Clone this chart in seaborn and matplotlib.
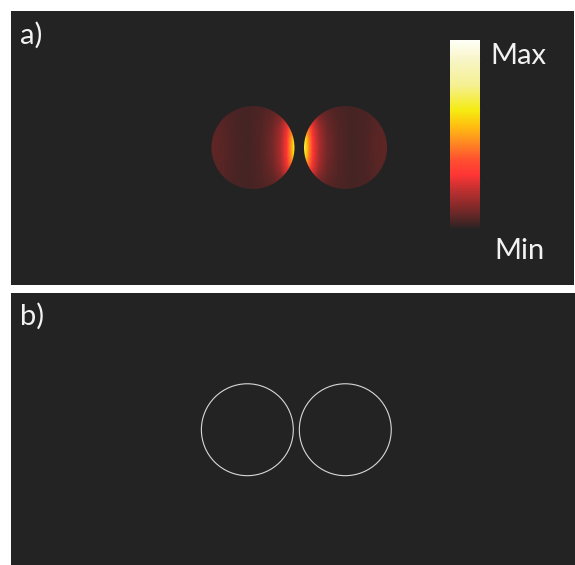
import numpy as np
import matplotlib
matplotlib.use("Agg")
import matplotlib.pyplot as plt
import seaborn as sns
from matplotlib.colors import LinearSegmentedColormap, Normalize
from matplotlib.image import NonUniformImage
from matplotlib.patches import Circle
import matplotlib.cm as cm

BG = "#232323"
W, H = 575, 565

# colour scale: normalised level -> colour
cmap_stops = [0.0, 0.05, 0.13, 0.21, 0.29, 0.37, 0.47, 0.55, 0.63, 0.76, 0.90, 1.0]
cmap_colors = ["#232323", "#502525", "#8a2a2a", "#c03030", "#ff3535", "#ff5030",
               "#ff9020", "#ffc010", "#f5eb10", "#f5f090", "#f8f5c8", "#fffff8"]
cbar_ticks = [0.253, 0.632, 0.895]
cbar_labels = ["Min", "Max"]

# dimer geometry (nm)
radius = 40.0
centers_a = [-44.6, 44.6]
outline_radius = 44.3
centers_b = [-47.2, 47.2]

# normalised field intensity inside the left particle, sampled on a coarse grid
# columns: x offset from particle centre (in radii), rows: y offset (in radii, upper half)
field_x = [-1.0, -0.7, -0.4, -0.1, 0.2, 0.45, 0.65, 0.8, 0.9, 0.96, 1.0]
field_y = [0.0, 0.2, 0.4, 0.6, 0.8, 1.0]
field_half = [
    [0.075, 0.065, 0.045, 0.042, 0.060, 0.100, 0.180, 0.300, 0.480, 0.600, 0.700],
    [0.075, 0.065, 0.045, 0.042, 0.060, 0.100, 0.175, 0.290, 0.460, 0.580, 0.660],
    [0.072, 0.062, 0.045, 0.042, 0.058, 0.095, 0.165, 0.270, 0.420, 0.480, 0.520],
    [0.070, 0.060, 0.045, 0.042, 0.055, 0.085, 0.140, 0.240, 0.300, 0.320, 0.330],
    [0.068, 0.058, 0.045, 0.042, 0.052, 0.072, 0.105, 0.150, 0.180, 0.200, 0.210],
    [0.065, 0.055, 0.045, 0.042, 0.050, 0.062, 0.085, 0.105, 0.125, 0.135, 0.145],
]

sns.set_theme(style="dark", rc={"axes.facecolor": BG, "figure.facecolor": "white"})
plt.rcParams["font.family"] = ["Lato", "DejaVu Sans"]

cmap = LinearSegmentedColormap.from_list("dimer", list(zip(cmap_stops, cmap_colors)))
norm = Normalize(0.0, 1.0)

fig = plt.figure(figsize=(W / 100, H / 100), dpi=100)


def px_axes(x0, y0, x1, y1):
    return fig.add_axes([x0 / W, 1 - y1 / H, (x1 - x0) / W, (y1 - y0) / H])


def clean(ax):
    ax.set_facecolor(BG)
    ax.set_xticks([])
    ax.set_yticks([])
    ax.grid(False)
    for s in ax.spines.values():
        s.set_visible(False)


# ---- panel a: field map ----
ax_a = px_axes(11, 11, 574, 285)
clean(ax_a)
ax_a.set_xlim(-277.8, 264.8)
ax_a.set_ylim(-132.5, 131.6)

fx = np.array(field_x)
half = np.array(field_half)
fy = np.concatenate([-np.array(field_y)[::-1], np.array(field_y)[1:]])
grid = np.vstack([half[::-1], half[1:]])

for k, cx in enumerate(centers_a):
    if k == 0:
        xs = cx + fx * radius
        vals = grid
    else:
        xs = cx - fx[::-1] * radius
        vals = grid[:, ::-1]
    ys = fy * radius
    im = NonUniformImage(ax_a, interpolation="bilinear", cmap=cmap, norm=norm,
                         extent=(xs[0], xs[-1], ys[0], ys[-1]))
    im.set_data(xs, ys, vals)
    ax_a.add_image(im)
    clip = Circle((cx, 0.0), radius, transform=ax_a.transData)
    im.set_clip_path(clip)

# colour bar
cax = px_axes(450, 40, 480, 230)
cb = fig.colorbar(cm.ScalarMappable(norm=norm, cmap=cmap), cax=cax, ticks=cbar_ticks)
cb.outline.set_visible(False)
cax.tick_params(axis="y", length=4, width=1, color="#333333", direction="in",
                left=True, right=True, labelleft=False, labelright=False)

fig.text(490 / W, 1 - 64 / H, cbar_labels[1], color="#f2f2f2", fontsize=21, va="baseline")
fig.text(494 / W, 1 - 259 / H, cbar_labels[0], color="#f2f2f2", fontsize=21, va="baseline")
fig.text(20 / W, 1 - 44 / H, "a)", color="#f2f2f2", fontsize=21, va="baseline")

# ---- panel b: particle outlines ----
ax_b = px_axes(11, 293, 575, 565)
clean(ax_b)
ax_b.set_xlim(-275.0, 268.6)
ax_b.set_ylim(-130.4, 131.8)
for cx in centers_b:
    ax_b.add_patch(Circle((cx, 0.0), outline_radius, fill=False,
                          edgecolor="#d8d8d8", linewidth=0.8))
fig.text(20 / W, 1 - 325 / H, "b)", color="#f2f2f2", fontsize=21, va="baseline")

fig.savefig("out.png", dpi=100, facecolor="white")
